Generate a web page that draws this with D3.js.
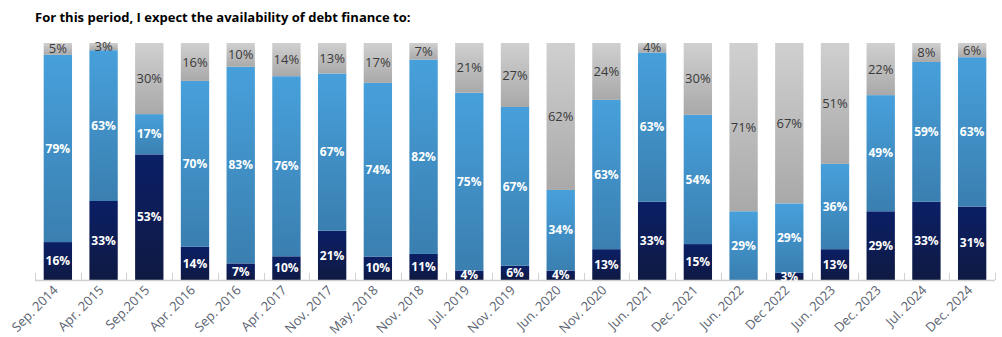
<!DOCTYPE html>
<html>
<head>
<meta charset="utf-8">
<script src="https://cdn.jsdelivr.net/npm/d3@7"></script>
<style>
	body { margin: 0; background: #fff; font-family: "Open Sans", "Noto Sans", sans-serif; }
	svg text { font-family: "Open Sans", "Noto Sans", sans-serif; }
</style>
</head>
<body>
<svg id="chart" width="1002" height="337"></svg>
<script>
var periods = ["Sep. 2014", "Apr. 2015", "Sep.2015", "Apr. 2016", "Sep. 2016", "Apr. 2017",
	"Nov. 2017", "May. 2018", "Nov. 2018", "Jul. 2019", "Nov. 2019", "Jun. 2020", "Nov. 2020",
	"Jun. 2021", "Dec. 2021", "Jun. 2022", "Dec 2022", "Jun. 2023", "Dec. 2023", "Jul. 2024", "Dec. 2024"];
// bottom (dark), middle (light blue), top (grey)
var darkVals = [16, 33, 53, 14, 7, 10, 21, 10, 11, 4, 6, 4, 13, 33, 15, 0, 3, 13, 29, 33, 31];
var blueVals = [79, 63, 17, 70, 83, 76, 67, 74, 82, 75, 67, 34, 63, 63, 54, 29, 29, 36, 49, 59, 63];
var greyVals = [5, 3, 30, 16, 10, 14, 13, 17, 7, 21, 27, 62, 24, 4, 30, 71, 67, 51, 22, 8, 6];
var seriesKeys = ["dark", "blue", "grey"];

var svg = d3.select("svg#chart");
var margin = { left: 35, right: 7, top: 43, bottom: 57 };
var width = 1002 - margin.left - margin.right;
var height = 337 - margin.top - margin.bottom;

var rows = periods.map(function (p, i) {
	return { period: p, dark: darkVals[i], blue: blueVals[i], grey: greyVals[i] };
});

var stacked = d3.stack().keys(seriesKeys).offset(d3.stackOffsetExpand)(rows);

var x = d3.scaleBand().domain(periods).range([0, width]).paddingInner(0.38).paddingOuter(0.19);
var y = d3.scaleLinear().domain([0, 1]).range([height, 0]);

// gradients
var defs = svg.append("defs");
var grads = {
	dark: ["#0b1f66", "#0f1a42"],
	blue: ["#47a0db", "#3a7fb0"],
	grey: ["#d0d0d0", "#a9a9a9"]
};
seriesKeys.forEach(function (k) {
	var g = defs.append("linearGradient")
	.attr("id", k + "Gradient")
	.attr("x1", 0).attr("y1", 0).attr("x2", 0).attr("y2", 1);
	g.append("stop").attr("offset", "0%").attr("stop-color", grads[k][0]);
	g.append("stop").attr("offset", "100%").attr("stop-color", grads[k][1]);
});

svg.append("text")
.text("For this period, I expect the availability of debt finance to:")
.attr("x", 35)
.attr("y", 22)
.style("font-size", "13px")
.style("font-weight", "bold")
.attr("fill", "#000");

var plot = svg.append("g")
.attr("transform", "translate(" + margin.left + "," + margin.top + ")");

var layers = plot.selectAll("g.layer")
.data(stacked)
.enter().append("g")
.classed("layer", true)
.attr("fill", function (d) { return "url(#" + d.key + "Gradient)"; });

layers.selectAll("rect")
.data(function (d) { return d; })
.enter().append("rect")
.attr("x", function (d) { return x(d.data.period); })
.attr("width", x.bandwidth())
.attr("y", function (d) { return y(d[1]); })
.attr("height", function (d) { return y(d[0]) - y(d[1]); });

// axis line and ticks between bars
plot.append("line")
.attr("x1", 0).attr("x2", width)
.attr("y1", height + 0.5).attr("y2", height + 0.5)
.attr("stroke", "#d0d0d0").attr("stroke-width", 1.5);

var step = x.step();
for (var i = 0; i <= periods.length; i++) {
	var tx = Math.round(x(periods[0]) - (step - x.bandwidth()) / 2 + i * step) + 0.5;
	plot.append("line")
	.attr("x1", tx).attr("x2", tx)
	.attr("y1", height - 7).attr("y2", height)
	.attr("stroke", "#d0d0d0");
}

// segment labels
stacked.forEach(function (layer) {
	plot.selectAll("text.lbl-" + layer.key)
	.data(layer.filter(function (d) { return d.data[layer.key] > 0; }))
	.enter().append("text")
	.attr("class", "lbl-" + layer.key)
	.attr("x", function (d) { return x(d.data.period) + x.bandwidth() / 2; })
	.attr("y", function (d) { return (y(d[0]) + y(d[1])) / 2; })
	.attr("dy", "0.35em")
	.attr("text-anchor", "middle")
	.style("font-size", layer.key === "grey" ? "13px" : "12px")
	.style("font-weight", layer.key === "grey" ? "normal" : "bold")
	.attr("fill", layer.key === "grey" ? "#3a3a3a" : "#fff")
	.text(function (d) { return d.data[layer.key] + "%"; });
});

// x labels
plot.selectAll("text.xlabel")
.data(periods)
.enter().append("text")
.attr("class", "xlabel")
.attr("text-anchor", "end")
.attr("transform", function (d) {
	return "translate(" + (x(d) + x.bandwidth() / 2 + 1) + "," + (height + 11) + ") rotate(-45)";
})
.style("font-size", "13px")
.attr("fill", "#5a6270")
.text(function (d) { return d; });
</script>
</body>
</html>
